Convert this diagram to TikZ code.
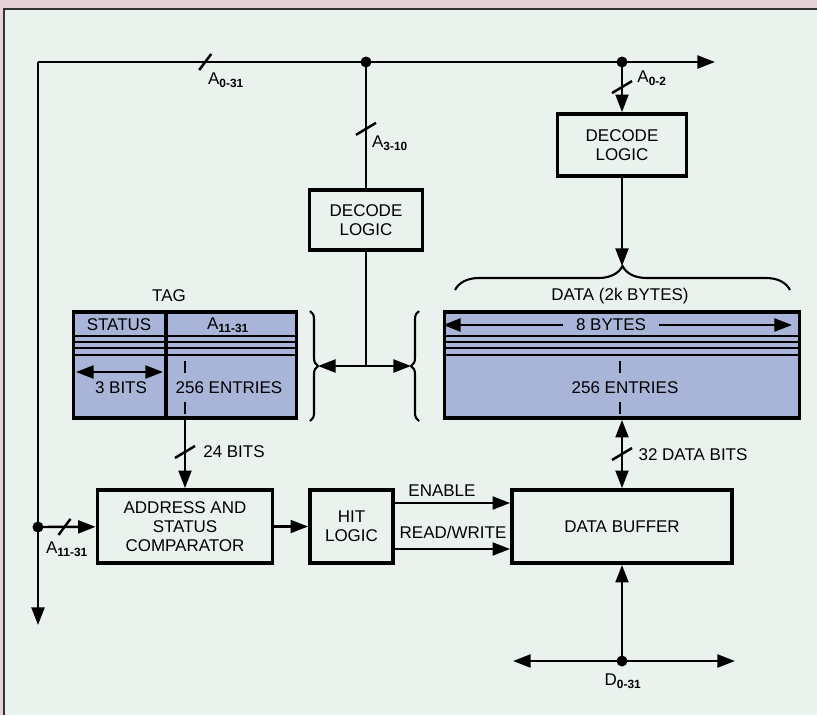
\documentclass[tikz,border=0pt]{standalone}
\usepackage{fontspec}
\setmainfont{Liberation Sans}
\usetikzlibrary{arrows.meta,decorations.pathreplacing}
\definecolor{paper}{HTML}{EAF2EE}
\definecolor{rim}{HTML}{E6D3DA}
\definecolor{cell}{HTML}{A8B5D8}
\newcommand\sbs[1]{\textsubscript{\bfseries #1}}
\begin{document}
\begin{tikzpicture}[x=0.03cm, y=-0.03cm, >={Triangle[length=15pt,width=11pt]},
  font=\fontsize{14.5}{16.5}\selectfont,
  wire/.style={line width=2.1pt},
  blk/.style={draw, line width=3.2pt, align=center, inner sep=0pt, minimum height=2.19cm},
  arr/.style={draw, line width=3.2pt, fill=cell, inner sep=0pt, minimum height=3.18cm},
  row/.style={line width=1.5pt},
  brc/.style={decorate, line width=1.8pt, decoration={brace, amplitude=#1}},
  hsl/.pic={\draw[-, line width=2.1pt] (-6,8) -- (6,-8);},
  vsl/.pic={\draw[-, line width=2.1pt] (-10,6) -- (10,-6);}]
\useasboundingbox (0,0) rectangle (817,715);
\fill[rim] (0,0) rectangle (817,715);
\fill[paper] (4,9) rectangle (817,715);
\draw[line width=1.2pt, black!80] (4,715) -- (4,9) -- (817,9);

% blocks
\node[blk, minimum width=3.39cm, minimum height=1.8cm] (dec1) at (366,220) {DECODE\\LOGIC};
\node[blk, minimum width=3.87cm, minimum height=1.86cm] (dec2) at (622,145) {DECODE\\LOGIC};
\node[blk, minimum width=5.25cm] (cmp) at (185,526.5) {ADDRESS AND\\STATUS\\COMPARATOR};
\node[blk, minimum width=2.49cm] (hit) at (351.5,526.5) {HIT\\LOGIC};
\node[blk, minimum width=6.6cm] (buf) at (622,526.5) {DATA BUFFER};

% tag and data arrays
\node[arr, minimum width=6.69cm] (tag) at (185,365) {};
\node[arr, minimum width=10.65cm] (data) at (622,365) {};
\foreach \yy in {336,342,348,355} {
  \draw[row] (tag.west |- 0,\yy) -- (tag.east |- 0,\yy);
  \draw[row] (data.west |- 0,\yy) -- (data.east |- 0,\yy);
}
\draw[line width=2.8pt] (tag.north -| 166,0) -- (tag.south -| 166,0);
\draw[wire] (185,361) -- (185,373);
\draw[wire] (185,402) -- (185,414);
\draw[wire] (620,361) -- (620,373);
\draw[wire] (620,402) -- (620,414);

\node (tagt) at (169,296) {TAG};
\node (stat) at (119,325) {STATUS};
\node (atag) at (228,325) {A\sbs{11-31}};
\node (bits3) at (121,388) {3 BITS};
\node (ent1) at (229,388) {256 ENTRIES};
\node (datat) at (620,296) {DATA (2k BYTES)};
\node[inner xsep=11pt, inner ysep=1pt] (byt8) at (611,325) {8 BYTES};
\node (ent2) at (625,388) {256 ENTRIES};

\coordinate (sb1) at (76,372);
\coordinate (sb2) at (163,372);
\coordinate (l8) at (443,325);
\coordinate (r8) at (792,325);
\draw[wire,<->] (sb1) -- (sb2);
\draw[wire,->] (byt8) -- (l8);
\draw[wire,->] (byt8) -- (r8);

% address bus
\coordinate (corner) at (38,62);
\coordinate (busend) at (715,62);
\coordinate (leftend) at (38,625);
\coordinate (j1) at (366,62);
\coordinate (j2) at (622,62);
\coordinate (j3) at (38,527);
\draw[wire,->] (corner) -- pic[pos=0.247]{hsl} (busend);
\draw[wire,->] (corner) -- (leftend);
\draw[wire] (j1) -- pic[pos=0.53]{vsl} (dec1);
\draw[wire,->] (j2) -- pic[pos=0.5]{vsl} (dec2);
\foreach \j in {j1,j2,j3} \fill (\j) circle (5.5);
\node (a031) at (226,80) {A\sbs{0-31}};
\node (a310) at (390,143) {A\sbs{3-10}};
\node (a02) at (652,78) {A\sbs{0-2}};

% braces
\coordinate (tee) at (366,366);
\coordinate (lcusp) at (318,366);
\coordinate (rcusp) at (411,366);
\coordinate (tcusp) at (622,266);
\draw[brc=0.24cm] (310,311) -- (310,421);
\draw[brc=0.24cm] (419,421) -- (419,311);
\draw[brc=0.72cm] (455,290) -- (790,290);
\draw[wire] (dec1) -- (tee);
\draw[wire,<->] (lcusp) -- (rcusp);
\draw[wire,->] (dec2) -- (tcusp);

% compare and data paths
\coordinate (en) at (0,503);
\coordinate (rw) at (0,549);
\draw[wire,->] (tag) -- pic[pos=0.47]{vsl} (cmp);
\draw[wire,->] (j3) -- pic[pos=0.46]{hsl} (cmp);
\draw[wire,->] (cmp) -- (hit);
\draw[wire,->] (hit.east |- en) -- (buf.west |- en);
\draw[wire,->] (hit.east |- rw) -- (buf.west |- rw);
\draw[wire,<->] (data) -- pic[pos=0.5]{vsl} (buf);
\node (l24) at (234,452) {24 BITS};
\node (a1131) at (67,549) {A\sbs{11-31}};
\node (enl) at (442,491) {ENABLE};
\node (rwl) at (453,532) {READ/WRITE};
\node (dbl) at (693,455) {32 DATA BITS};

% data bus
\coordinate (dj) at (622,661);
\coordinate (dleft) at (513,661);
\coordinate (dright) at (735,661);
\draw[wire,<->] (dleft) -- (dright);
\draw[wire,->] (dj) -- (buf);
\fill (dj) circle (5.5);
\node (dlab) at (623,681) {D\sbs{0-31}};
\end{tikzpicture}
\end{document}
